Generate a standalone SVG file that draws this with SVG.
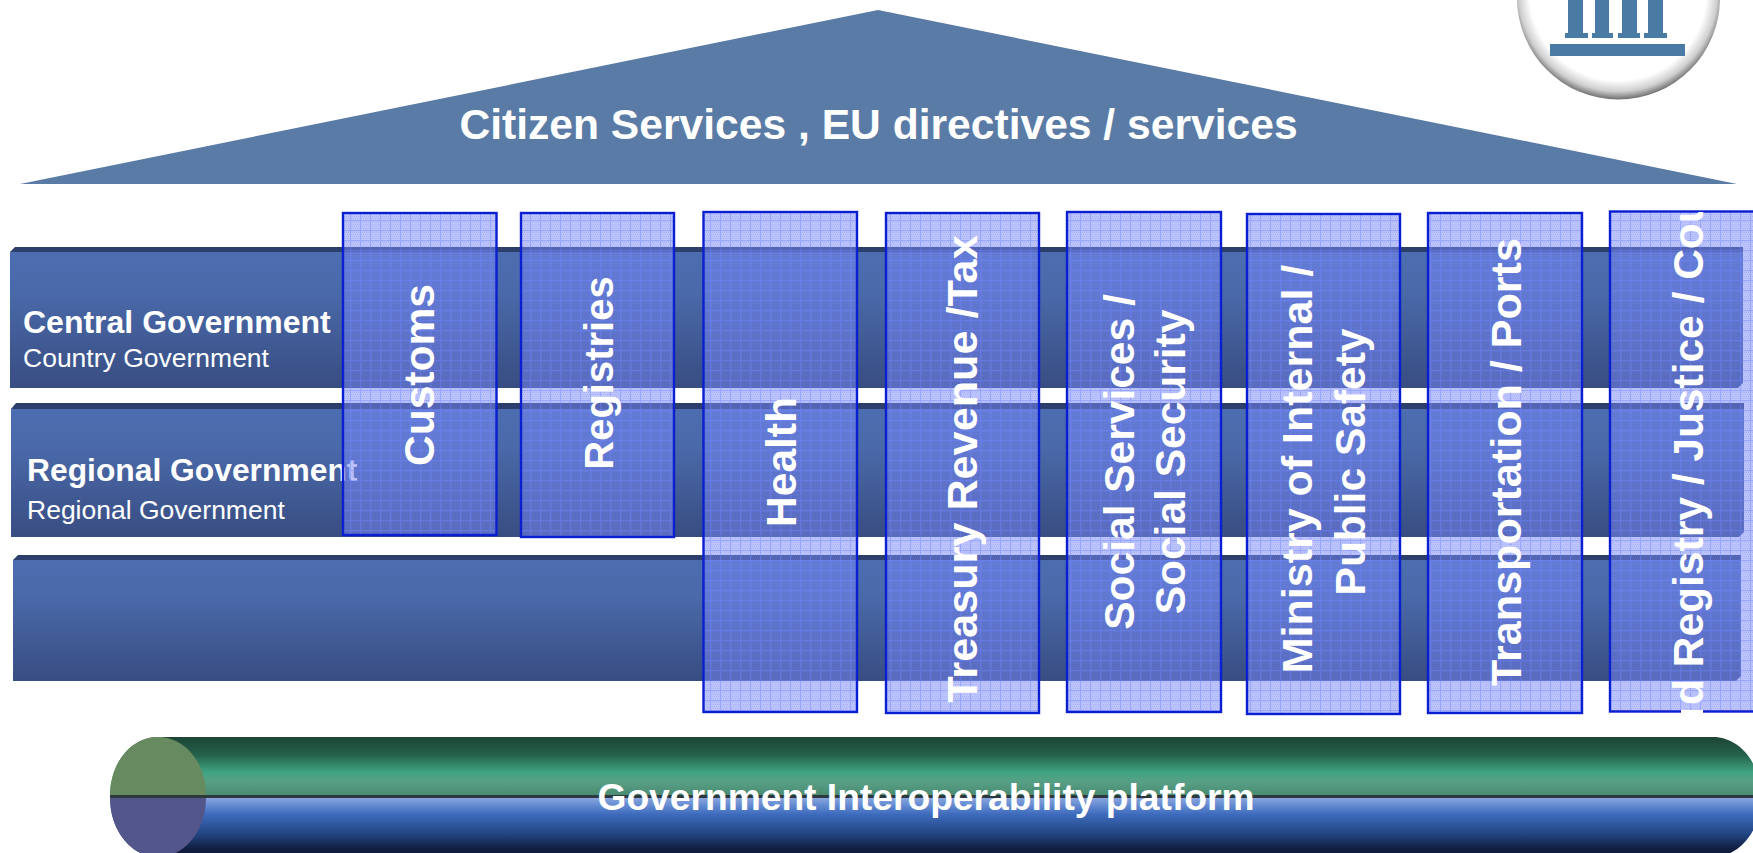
<svg xmlns="http://www.w3.org/2000/svg" width="1753" height="853" viewBox="0 0 1753 853">
<style>
text{font-family:"Liberation Sans",Arial,sans-serif;fill:#fff}
.b{font-weight:700}
.h{font-size:32px;font-weight:700}
.s{font-size:26.500px}
.v{font-size:42.500px;font-weight:700;text-anchor:middle}
.col{fill:url(#hatch);stroke:#0a1ed2;stroke-width:2.4}
.top{fill:#2c3f6c}
.body{fill:url(#bar)}
</style>
<defs>
<linearGradient id="bar" x1="0" y1="0" x2="0" y2="1"><stop offset="0" stop-color="#4c6db0"/><stop offset=".3" stop-color="#4a69a9"/><stop offset="1" stop-color="#384d82"/></linearGradient>
<linearGradient id="green" x1="0" y1="0" x2="0" y2="1"><stop offset="0" stop-color="#1d4535"/><stop offset=".3" stop-color="#24604a"/><stop offset=".6" stop-color="#40a582"/><stop offset=".75" stop-color="#57a086"/><stop offset="1" stop-color="#4a8a70"/></linearGradient>
<linearGradient id="blue" x1="0" y1="0" x2="0" y2="1"><stop offset="0" stop-color="#8aa5dc"/><stop offset=".1" stop-color="#6a90d4"/><stop offset=".28" stop-color="#3d6abc"/><stop offset=".6" stop-color="#234684"/><stop offset=".85" stop-color="#111f42"/><stop offset="1" stop-color="#0e1a38"/></linearGradient>
<radialGradient id="disc" gradientUnits="userSpaceOnUse" cx="1618" cy="-8" r="108"><stop offset="0" stop-color="#fff"/><stop offset=".82" stop-color="#fff"/><stop offset=".92" stop-color="#cfcfcf"/><stop offset="1" stop-color="#686868"/></radialGradient>
<pattern id="hatch" patternUnits="userSpaceOnUse" width="10" height="10">
<rect width="10" height="10" fill="#7c8cfa" fill-opacity=".5"/>
<rect width="10" height="1.200" fill="#6c80ff" fill-opacity=".45"/>
<rect y="1.200" width="1.200" height="8.800" fill="#6c80ff" fill-opacity=".45"/>
<path d="M2 2h1v1h-1zM4 2h1v1h-1zM6 2h1v1h-1zM8 2h1v1h-1zM3 4h1v1h-1zM5 4h1v1h-1zM7 4h1v1h-1zM9 4h1v1h-1zM2 6h1v1h-1zM4 6h1v1h-1zM6 6h1v1h-1zM8 6h1v1h-1zM3 8h1v1h-1zM5 8h1v1h-1zM7 8h1v1h-1zM9 8h1v1h-1z" fill="#3a4ad0" fill-opacity=".14"/>
</pattern>
<clipPath id="landClip"><rect x="1610" y="212" width="143" height="500"/></clipPath>
</defs>

<g id="logo">
<circle cx="1618.5" cy="-2" r="101.5" fill="url(#disc)"/>
<g fill="#4a7ba5">
<rect x="1568" y="0" width="15" height="34"/><rect x="1595" y="0" width="14" height="34"/><rect x="1622" y="0" width="15" height="34"/><rect x="1648" y="0" width="15" height="34"/>
<rect x="1565" y="33" width="23" height="5"/><rect x="1592" y="33" width="21" height="5"/><rect x="1618" y="33" width="22" height="5"/><rect x="1644" y="33" width="23" height="5"/>
<rect x="1550" y="44" width="135" height="12"/>
</g>
</g>

<g id="roof">
<polygon points="878,10 1737,184 20,184" fill="#5a7ba5"/>
<text class="b" x="878.500" y="139" font-size="42.600" text-anchor="middle">Citizen Services , EU directives / services</text>
</g>

<g id="central-government">
<path class="top" d="M10 252L15 247H1743V252Z"/>
<path class="body" d="M10 252H1743V383L1738 388H10Z"/>
<text class="h" x="23" y="333">Central Government</text>
<text class="s" x="23" y="367">Country Government</text>
</g>
<g id="regional-government">
<path class="top" d="M11 409L16 403H1744V409Z"/>
<path class="body" d="M11 409H1744V532L1739 537H11Z"/>
<text class="h" x="27" y="481" style="font-size:31.800px">Regional Government</text>
<text class="s" x="27" y="519">Regional Government</text>
</g>
<g id="local-government">
<path class="top" d="M13 560L18 555H1741V560Z"/>
<path class="body" d="M13 560H1741V676L1736 681H13Z"/>
</g>

<g id="customs"><rect class="col" x="343" y="213" width="153.500" height="322"/><text class="v" transform="translate(433.500 375) rotate(-90)">Customs</text></g>
<g id="registries"><rect class="col" x="521" y="213" width="153" height="324"/><text class="v" style="font-size:40px" transform="translate(613 373) rotate(-90)">Registries</text></g>
<g id="health"><rect class="col" x="703.500" y="212" width="153.500" height="500"/><text class="v" transform="translate(796 462) rotate(-90)">Health</text></g>
<g id="treasury"><rect class="col" x="886" y="213" width="153" height="500"/><text class="v" style="font-size:43.200px" transform="translate(977 469) rotate(-90)">Treasury Revenue /Tax</text></g>
<g id="social"><rect class="col" x="1067" y="212" width="154" height="500"/><text class="v" transform="translate(1134 462) rotate(-90)">Social Services /</text><text class="v" transform="translate(1185 462) rotate(-90)">Social Security</text></g>
<g id="ministry"><rect class="col" x="1247" y="214" width="153" height="500"/><text class="v" style="font-size:43px" transform="translate(1312 469) rotate(-90)">Ministry of Internal /</text><text class="v" transform="translate(1365 462) rotate(-90)">Public Safety</text></g>
<g id="transportation"><rect class="col" x="1428" y="213" width="154" height="500"/><text class="v" style="font-size:43.100px" transform="translate(1521 462) rotate(-90)">Transportation / Ports</text></g>
<g id="land-registry"><rect class="col" x="1610" y="211.500" width="155" height="500"/><rect x="1681" y="710" width="22" height="3" fill="#fff"/><g clip-path="url(#landClip)"><text class="v" style="text-anchor:start" transform="translate(1703 705) rotate(-90)">d Registry / Justice / Cou</text></g></g>

<g id="platform">
<path d="M158 737H1713C1740 737 1761 764 1761 796H110C110 764 131 737 158 737Z" fill="url(#green)"/>
<path d="M110 798H1761C1761 830 1740 857 1713 857H158C131 857 110 830 110 798Z" fill="url(#blue)"/>
<rect x="110" y="795" width="1651" height="3" fill="#2c3a40"/>
<path d="M110 795C110 763 131 737 158 737C185 737 206 763 206 795Z" fill="#678a60"/>
<path d="M110 798C110 830 131 857 158 857C185 857 206 830 206 798Z" fill="#53568a"/>
<rect x="110" y="795" width="96" height="3" fill="#2c3a3c"/>
<text class="b" x="926" y="810" font-size="37.200" text-anchor="middle">Government Interoperability platform</text>
</g>
</svg>
